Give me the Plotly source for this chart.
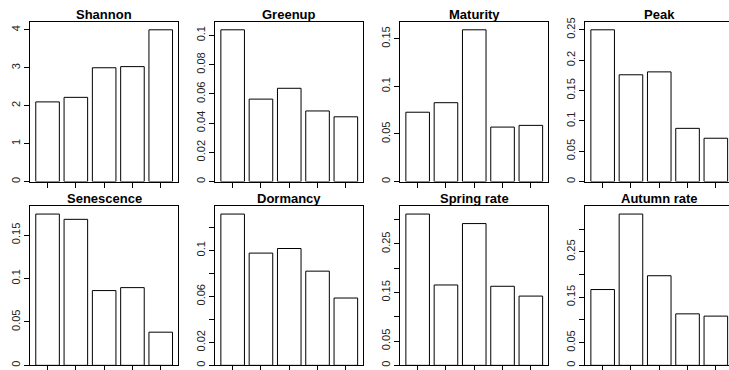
import plotly.graph_objects as go

# Bar heights for the five groups in each panel
groups = [1, 2, 3, 4, 5]

shannon = [2.10, 2.22, 3.00, 3.03, 4.00]
greenup = [0.1038, 0.0564, 0.0638, 0.0483, 0.0443]
maturity = [0.0728, 0.0828, 0.1593, 0.0572, 0.0590]
peak = [0.250, 0.1759, 0.1807, 0.0877, 0.0714]
senescence = [0.1742, 0.1681, 0.0861, 0.0895, 0.0382]
dormancy = [0.1317, 0.0977, 0.1017, 0.0820, 0.0586]
spring_rate = [0.3115, 0.1655, 0.2919, 0.1628, 0.1426]
autumn_rate = [0.1669, 0.3331, 0.1973, 0.1134, 0.1084]

titles = ["Shannon", "Greenup", "Maturity", "Peak",
          "Senescence", "Dormancy", "Spring rate", "Autumn rate"]

# y-axis ticks; empty labels where R drops an overlapping label
shannon_ticks = [0, 1, 2, 3, 4]
shannon_labels = ["0", "1", "2", "3", "4"]
greenup_ticks = [0, 0.02, 0.04, 0.06, 0.08, 0.1]
greenup_labels = ["0", "0.02", "0.04", "0.06", "0.08", "0.1"]
maturity_ticks = [0, 0.05, 0.1, 0.15]
maturity_labels = ["0", "0.05", "0.1", "0.15"]
peak_ticks = [0, 0.05, 0.1, 0.15, 0.2, 0.25]
peak_labels = ["0", "0.05", "0.1", "0.15", "0.2", "0.25"]
senescence_ticks = [0, 0.05, 0.1, 0.15]
senescence_labels = ["0", "0.05", "0.1", "0.15"]
dormancy_ticks = [0, 0.02, 0.04, 0.06, 0.08, 0.1, 0.12]
dormancy_labels = ["0", "0.02", "", "0.06", "", "0.1", ""]
spring_ticks = [0, 0.05, 0.1, 0.15, 0.2, 0.25, 0.3]
spring_labels = ["0", "0.05", "", "0.15", "", "0.25", ""]
autumn_ticks = [0, 0.05, 0.1, 0.15, 0.2, 0.25, 0.3]
autumn_labels = ["0", "0.05", "", "0.15", "", "0.25", ""]

series = [shannon, greenup, maturity, peak,
          senescence, dormancy, spring_rate, autumn_rate]
ticks = [shannon_ticks, greenup_ticks, maturity_ticks, peak_ticks,
         senescence_ticks, dormancy_ticks, spring_ticks, autumn_ticks]
labels = [shannon_labels, greenup_labels, maturity_labels, peak_labels,
          senescence_labels, dormancy_labels, spring_labels, autumn_labels]

W, H = 729, 370
FONT = "Liberation Sans, Arial, Helvetica, sans-serif"

# plot-region geometry in pixels (R mfrow = c(2, 4) style)
col_left = [30.3, 215.4, 400.4, 585.4]
box_w = 147.7
row_top = [17.5, 204.8]
row_bottom = [179.5, 366.3]
x_lo, x_hi = 0.39, 5.61
px_per_unit = box_w / (x_hi - x_lo)

fig = go.Figure()
layout = dict(
    width=W, height=H,
    margin=dict(l=0, r=0, t=0, b=0),
    paper_bgcolor="white", plot_bgcolor="white",
    showlegend=False, bargap=1 - 1 / 1.2,
    font=dict(family=FONT, size=11, color="black"),
)
annotations = []

for i, (vals, tv, tt, title) in enumerate(zip(series, ticks, labels, titles)):
    r, c = divmod(i, 4)
    k = "" if i == 0 else str(i + 1)
    left = col_left[c]
    right = left + box_w
    hi = x_hi
    clipped = right > W
    if clipped:
        hi = x_lo + (W - left) / px_per_unit
        right = W
    fig.add_trace(go.Bar(
        x=groups, y=vals, xaxis="x" + k, yaxis="y" + k,
        marker=dict(color="white", line=dict(color="black", width=1)),
        hoverinfo="skip",
    ))
    layout["xaxis" + k] = dict(
        domain=[left / W, right / W], anchor="y" + k,
        range=[x_lo, hi], tickmode="array", tickvals=groups,
        showticklabels=False, ticks="outside", ticklen=5,
        tickcolor="black", tickwidth=1,
        showline=True, linecolor="black", linewidth=1, mirror=True,
        showgrid=False, zeroline=False, fixedrange=True,
    )
    layout["yaxis" + k] = dict(
        domain=[1 - row_bottom[r] / H, 1 - row_top[r] / H], anchor="x" + k,
        range=[0, max(vals) * 1.05], tickmode="array",
        tickvals=tv, ticktext=tt, tickangle=-90,
        ticks="outside", ticklen=5, tickcolor="black", tickwidth=1,
        tickfont=dict(family=FONT, size=11, color="#222222"),
        showline=True, linecolor="black", linewidth=1,
        mirror=not clipped,
        showgrid=False, zeroline=False, fixedrange=True,
    )
    annotations.append(dict(
        text="<b>" + title + "</b>", showarrow=False,
        xref="paper", yref="paper",
        x=(left + box_w / 2) / W, y=1 - row_top[r] / H,
        xanchor="center", yanchor="bottom", yshift=-2,
        font=dict(family=FONT, size=13, color="black"),
    ))

layout["annotations"] = annotations
fig.update_layout(**layout)
fig.write_html("out.html")
